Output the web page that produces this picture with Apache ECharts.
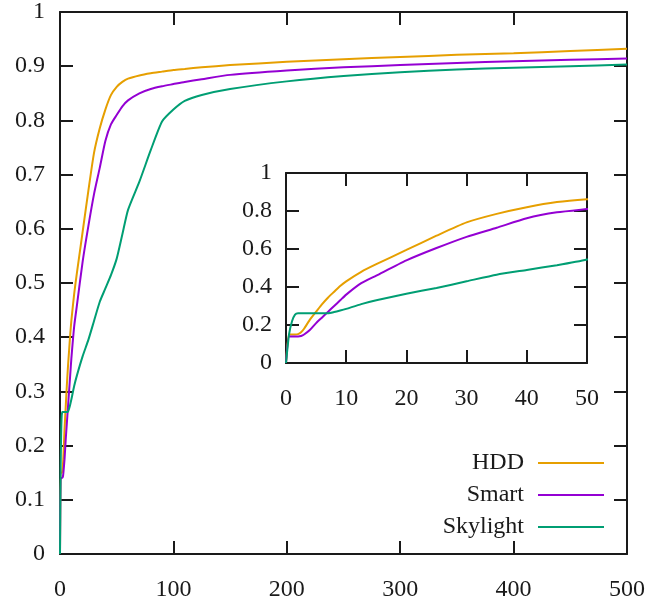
<!DOCTYPE html>
<html>
<head>
<meta charset="utf-8">
<script src="https://cdn.jsdelivr.net/npm/echarts@6/dist/echarts.min.js"></script>
<style>
  html, body { margin: 0; padding: 0; background: #fff; }
  #chart { width: 656px; height: 602px; }
</style>
</head>
<body>
<div id="chart"></div>
<script>
// Request size (x) and cumulative fraction for each scheme
const sizes = [0, 0.5, 1, 1.5, 2, 2.5, 3, 4, 5, 6, 7, 8, 9, 10, 12.5, 15, 20, 25, 30, 35, 40, 45, 50,
  55, 60, 70, 80, 90, 100, 110, 125, 150, 200, 250, 300, 350, 400, 450, 500];

const hdd = [0, 0.15, 0.15, 0.15, 0.152, 0.162, 0.18, 0.23, 0.27, 0.31, 0.345, 0.375, 0.405, 0.43,
  0.48, 0.52, 0.595, 0.67, 0.74, 0.785, 0.82, 0.847, 0.862, 0.871, 0.877, 0.883, 0.887, 0.89, 0.893,
  0.895, 0.898, 0.902, 0.908, 0.913, 0.917, 0.921, 0.924, 0.928, 0.932];

const smart = [0, 0.14, 0.14, 0.14, 0.14, 0.142, 0.15, 0.175, 0.21, 0.24, 0.27, 0.3, 0.33, 0.36,
  0.42, 0.46, 0.54, 0.605, 0.664, 0.712, 0.762, 0.793, 0.81, 0.826, 0.837, 0.85, 0.858, 0.863, 0.867,
  0.871, 0.876, 0.884, 0.892, 0.898, 0.902, 0.906, 0.909, 0.912, 0.914];

const skylight = [0, 0.15, 0.22, 0.255, 0.262, 0.262, 0.262, 0.262, 0.262, 0.262, 0.262, 0.268,
  0.276, 0.285, 0.31, 0.33, 0.365, 0.395, 0.43, 0.465, 0.49, 0.515, 0.545, 0.59, 0.635, 0.687, 0.745,
  0.798, 0.82, 0.836, 0.847, 0.858, 0.872, 0.882, 0.889, 0.894, 0.897, 0.9, 0.903];

const seriesNames = ['HDD', 'Smart', 'Skylight'];
const seriesColors = ['#E69F00', '#9400D3', '#009E73'];
const seriesValues = [hdd, smart, skylight];

const FONT = 'Liberation Serif';
const INK = '#1a1a1a';

function pairs(vals) {
  return sizes.map((x, i) => [x, vals[i]]);
}

function labelStyle(margin) {
  return { show: true, color: INK, fontFamily: FONT, fontSize: 24, margin: margin };
}

function axisBase(gridIndex, position, extra) {
  return Object.assign({
    type: 'value',
    gridIndex: gridIndex,
    position: position,
    axisLine: { show: true, onZero: false, lineStyle: { color: INK, width: 2 } },
    axisTick: { show: true, inside: true, length: 13, lineStyle: { color: INK, width: 2 } },
    splitLine: { show: false },
    axisLabel: { show: false }
  }, extra);
}

const xAxes = [
  // main plot
  axisBase(0, 'bottom', { min: 0, max: 500, interval: 100, axisLabel: labelStyle(24) }),
  axisBase(0, 'top', { min: 0, max: 500, interval: 100 }),
  // inset
  axisBase(1, 'bottom', { min: 0, max: 50, interval: 10, axisLabel: labelStyle(24) }),
  axisBase(1, 'top', { min: 0, max: 50, interval: 10 })
];

const yAxes = [
  axisBase(0, 'left', { min: 0, max: 1, interval: 0.1, axisLabel: labelStyle(15) }),
  axisBase(0, 'right', { min: 0, max: 1, interval: 0.1 }),
  axisBase(1, 'left', { min: 0, max: 1, interval: 0.2, axisLabel: labelStyle(14) }),
  axisBase(1, 'right', { min: 0, max: 1, interval: 0.2 })
];

const series = [];
seriesNames.forEach((name, k) => {
  // full range
  series.push({
    name: name, type: 'line', xAxisIndex: 0, yAxisIndex: 0,
    data: pairs(seriesValues[k]), showSymbol: false, symbol: 'none', smooth: 0.2,
    lineStyle: { color: seriesColors[k], width: 2 }, itemStyle: { color: seriesColors[k] },
    z: 2
  });
  // zoomed view of the first 50
  series.push({
    name: name, type: 'line', xAxisIndex: 2, yAxisIndex: 2,
    data: pairs(seriesValues[k]), showSymbol: false, symbol: 'none', clip: true, smooth: 0.2,
    lineStyle: { color: seriesColors[k], width: 2 }, itemStyle: { color: seriesColors[k] },
    z: 4
  });
});

const chart = echarts.init(document.getElementById('chart'), null, { renderer: 'canvas' });
chart.setOption({
  animation: false,
  backgroundColor: '#fff',
  grid: [
    { left: 60, top: 10, right: 29, bottom: 48 },
    { left: 286, top: 173, width: 301, height: 190, show: true, backgroundColor: '#fff', borderWidth: 0 }
  ],
  xAxis: xAxes,
  yAxis: yAxes,
  legend: {
    data: seriesNames,
    orient: 'vertical',
    right: 47,
    top: 446,
    align: 'right',
    icon: 'rect',
    itemWidth: 66,
    itemHeight: 2,
    itemGap: 8,
    textStyle: { color: INK, fontFamily: FONT, fontSize: 24, padding: [0, 9, 0, 0] }
  },
  series: series
});
</script>
</body>
</html>
